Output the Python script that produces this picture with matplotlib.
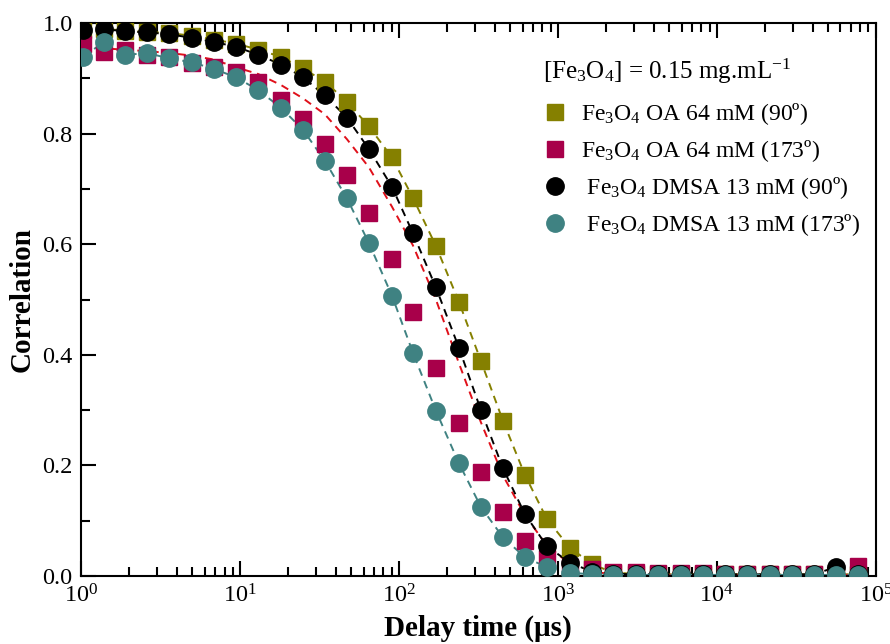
import matplotlib
matplotlib.use("Agg")
import matplotlib.pyplot as plt
from matplotlib.ticker import LogLocator, MultipleLocator, FormatStrFormatter, NullFormatter

plt.rcParams['font.family'] = ['Liberation Serif', 'DejaVu Serif']
plt.rcParams['mathtext.fontset'] = 'custom'
plt.rcParams['mathtext.rm'] = 'Liberation Serif'
plt.rcParams['mathtext.it'] = 'Liberation Serif:italic'
plt.rcParams['mathtext.bf'] = 'Liberation Serif:bold'

# ---- data ----
delay_us = [1.03, 1.40, 1.89, 2.60, 3.58, 4.99, 6.86, 9.44, 12.98, 18.1, 24.9, 34.2,
            47.1, 64.8, 90.4, 122.5, 170.9, 238.4, 328, 451, 620, 853, 1190, 1636,
            2218, 3095, 4256, 5936, 8166, 11230, 15440, 21540, 29630, 40750, 56030, 77080]

oa_90 = [0.988, 0.990, 0.986, 0.984, 0.982, 0.977, 0.970, 0.963, 0.952, 0.939, 0.918, 0.894,
         0.858, 0.813, 0.757, 0.684, 0.597, 0.496, 0.389, 0.281, 0.183, 0.103, 0.051, 0.022,
         0.006, 0.004, 0.003, 0.003, 0.003, 0.003, 0.003, 0.003, 0.003, 0.003, 0.003, 0.003]

oa_173 = [0.962, 0.948, 0.951, 0.942, 0.939, 0.928, 0.921, 0.912, 0.894, 0.861, 0.826, 0.782,
          0.725, 0.656, 0.573, 0.477, 0.376, 0.277, 0.188, 0.116, 0.064, 0.032, 0.016, 0.012,
          0.008, 0.008, 0.005, 0.005, 0.005, 0.004, 0.004, 0.004, 0.004, 0.004, 0.005, 0.018]

oa_173_fit = [0.957, 0.954, 0.952, 0.949, 0.946, 0.941, 0.934, 0.920, 0.908, 0.888, 0.864, 0.835,
              0.790, 0.739, 0.668, 0.598, 0.500, 0.385, 0.278, 0.182, 0.110, 0.055, 0.022, 0.008,
              0.003, 0.002, 0.002, 0.002, 0.002, 0.002, 0.002, 0.002, 0.002, 0.002, 0.002, 0.002]

dmsa_90 = [0.987, 0.989, 0.985, 0.983, 0.980, 0.973, 0.966, 0.957, 0.943, 0.925, 0.902, 0.869,
           0.829, 0.772, 0.704, 0.620, 0.522, 0.413, 0.300, 0.195, 0.112, 0.054, 0.024, 0.008,
           0.004, 0.003, 0.003, 0.003, 0.003, 0.003, 0.003, 0.003, 0.003, 0.003, 0.016, 0.003]

dmsa_173 = [0.939, 0.966, 0.942, 0.946, 0.936, 0.929, 0.917, 0.902, 0.879, 0.847, 0.807, 0.751,
            0.683, 0.602, 0.507, 0.404, 0.299, 0.204, 0.125, 0.070, 0.034, 0.016, 0.006, 0.003,
            0.002, 0.002, 0.002, 0.002, 0.002, 0.002, 0.002, 0.002, 0.002, 0.002, 0.002, 0.002]

labels = ["Fe$_3$O$_4$ OA 64 mM (90º)",
          "Fe$_3$O$_4$ OA 64 mM (173º)",
          " Fe$_3$O$_4$ DMSA 13 mM (90º)",
          " Fe$_3$O$_4$ DMSA 13 mM (173º)"]
legend_title = "[Fe$_3$O$_4$] = 0.15 mg.mL$^{-1}$"

c_olive = "#858000"
c_crimson = "#A8004A"
c_black = "#000000"
c_teal = "#3F8282"
c_redfit = "#E0101A"

fig = plt.figure(figsize=(8.9, 6.44), dpi=100)
ax = fig.add_axes([0.091, 0.1056, 0.893, 0.8586])

dash = (0, (4, 3))
lw = 1.4
ax.plot(delay_us, oa_90, color=c_olive, ls=dash, lw=lw, zorder=2)
ax.plot(delay_us, oa_173_fit, color=c_redfit, ls=dash, lw=lw, zorder=2)
ax.plot(delay_us, dmsa_90, color=c_black, ls=dash, lw=lw, zorder=2)
ax.plot(delay_us, dmsa_173, color=c_teal, ls=dash, lw=lw, zorder=2)

ms_sq = 11
ms_c = 12.5
ax.plot(delay_us, oa_90, ls='none', marker='s', ms=ms_sq, color=c_olive, mec=c_olive, label=labels[0], zorder=3)
ax.plot(delay_us, oa_173, ls='none', marker='s', ms=ms_sq, color=c_crimson, mec=c_crimson, label=labels[1], zorder=3)
ax.plot(delay_us, dmsa_90, ls='none', marker='o', ms=ms_c, color=c_black, mec=c_black, label=labels[2], zorder=3)
ax.plot(delay_us, dmsa_173, ls='none', marker='o', ms=ms_c, color=c_teal, mec=c_teal, label=labels[3], zorder=3)

ax.set_xscale('log')
ax.set_xlim(1, 1e5)
ax.set_ylim(0, 1.0)
ax.xaxis.set_major_locator(LogLocator(base=10, numticks=10))
ax.xaxis.set_minor_locator(LogLocator(base=10, subs=range(2, 10), numticks=20))
ax.xaxis.set_minor_formatter(NullFormatter())
ax.yaxis.set_major_locator(MultipleLocator(0.2))
ax.yaxis.set_minor_locator(MultipleLocator(0.1))
ax.yaxis.set_major_formatter(FormatStrFormatter('%.1f'))

ax.tick_params(which='both', direction='in', top=True, right=False, width=1.5)
ax.tick_params(which='major', length=11, labelsize=17.5, pad=6)
ax.tick_params(which='minor', length=6.5)
for s in ax.spines.values():
    s.set_linewidth(1.5)

ax.set_xlabel("Delay time (μs)", fontsize=21, fontweight='bold', labelpad=5)
ax.set_ylabel("Correlation", fontsize=21, fontweight='bold', labelpad=5)

leg = ax.legend(title=legend_title, loc='upper left', bbox_to_anchor=(0.570, 0.957),
                frameon=False, fontsize=17, title_fontsize=18, handletextpad=0.6,
                labelspacing=0.47, borderaxespad=0, handlelength=1.0, alignment='left')
leg._legend_box.sep = 11

fig.savefig("out.png", dpi=100)
